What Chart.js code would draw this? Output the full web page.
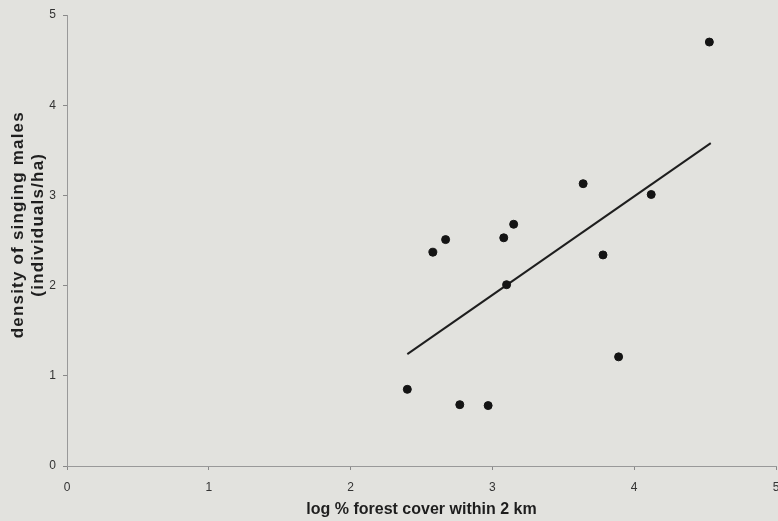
<!DOCTYPE html>
<html>
<head>
<meta charset="utf-8">
<script src="https://cdn.jsdelivr.net/npm/chart.js@4/dist/chart.umd.min.js"></script>
<style>
html,body{margin:0;padding:0;background:#e2e2de;}
canvas{display:block;}
</style>
</head>
<body>
<canvas id="c" width="778" height="521"></canvas>
<script>
// Data
const forestX = [2.40, 2.58, 2.67, 2.77, 2.97, 3.08, 3.10, 3.15, 3.64, 3.78, 3.89, 4.12, 4.53];
const densityY = [0.85, 2.37, 2.51, 0.68, 0.67, 2.53, 2.01, 2.68, 3.13, 2.34, 1.21, 3.01, 4.70];
const fitX = [2.40, 4.54];
const fitY = [1.24, 3.58];
const xTicks = [0, 1, 2, 3, 4, 5];
const yTicks = [0, 1, 2, 3, 4, 5];
const xTitle = 'log % forest cover within 2 km';
const yTitle = ['density of singing males', '(individuals/ha)'];

const points = forestX.map((x, i) => ({x: x, y: densityY[i]}));
const fitLine = fitX.map((x, i) => ({x: x, y: fitY[i]}));

const bgPlugin = {
  id: 'bg',
  beforeDraw(chart) {
    const ctx = chart.ctx;
    ctx.save();
    ctx.fillStyle = '#e2e2de';
    ctx.fillRect(0, 0, chart.width, chart.height);
    ctx.restore();
  }
};

const yTitlePlugin = {
  id: 'ytitle',
  afterDraw(chart) {
    const ctx = chart.ctx;
    const area = chart.chartArea;
    const cy = area.top + (area.bottom - area.top) * 0.465;
    ctx.save();
    ctx.fillStyle = '#1e1e1e';
    ctx.font = 'bold 17px "Liberation Sans", Arial, sans-serif';
    if ('letterSpacing' in ctx) ctx.letterSpacing = '1.2px';
    ctx.textAlign = 'center';
    ctx.textBaseline = 'alphabetic';
    ctx.translate(0, cy);
    ctx.rotate(-Math.PI / 2);
    ctx.fillText(yTitle[0], 0, 23);
    ctx.fillText(yTitle[1], 0, 43);
    ctx.restore();
  }
};

new Chart(document.getElementById('c'), {
  type: 'scatter',
  data: {
    datasets: [
      {
        label: 'sites',
        data: points,
        backgroundColor: '#141414',
        borderColor: '#141414',
        pointRadius: 4,
        pointHoverRadius: 4,
        order: 1
      },
      {
        label: 'fit',
        type: 'line',
        data: fitLine,
        borderColor: '#1e1e1e',
        borderWidth: 2,
        pointRadius: 0,
        fill: false,
        order: 2
      }
    ]
  },
  options: {
    responsive: false,
    devicePixelRatio: 1,
    animation: false,
    layout: {autoPadding: false, padding: {top: 15, right: 2, left: 0, bottom: 0}},
    plugins: {
      legend: {display: false},
      tooltip: {enabled: false}
    },
    scales: {
      x: {
        type: 'linear',
        min: 0, max: 5,
        afterBuildTicks(scale) { scale.ticks = xTicks.map(v => ({value: v})); },
        ticks: {
          color: '#333',
          font: {family: '"Liberation Sans", Arial, sans-serif', size: 12},
          padding: 10
        },
        grid: {drawOnChartArea: false, drawTicks: true, tickLength: 4, color: '#888'},
        border: {display: true, color: '#999', width: 1},
        title: {
          display: true,
          text: xTitle,
          color: '#1e1e1e',
          font: {family: '"Liberation Sans", Arial, sans-serif', size: 16, weight: 'bold'},
          padding: {top: 6, bottom: 1.5}
        },
        afterFit(scale) { scale.height = 55; scale.paddingLeft = 0; scale.paddingRight = 0; }
      },
      y: {
        type: 'linear',
        min: 0, max: 5,
        afterBuildTicks(scale) { scale.ticks = yTicks.map(v => ({value: v})); },
        ticks: {
          color: '#333',
          font: {family: '"Liberation Sans", Arial, sans-serif', size: 12},
          padding: 7
        },
        grid: {drawOnChartArea: false, drawTicks: true, tickLength: 4, color: '#888'},
        border: {display: true, color: '#999', width: 1},
        afterFit(scale) { scale.width = 67; scale.paddingTop = 0; scale.paddingBottom = 0; }
      }
    }
  },
  plugins: [bgPlugin, yTitlePlugin]
});
</script>
</body>
</html>
